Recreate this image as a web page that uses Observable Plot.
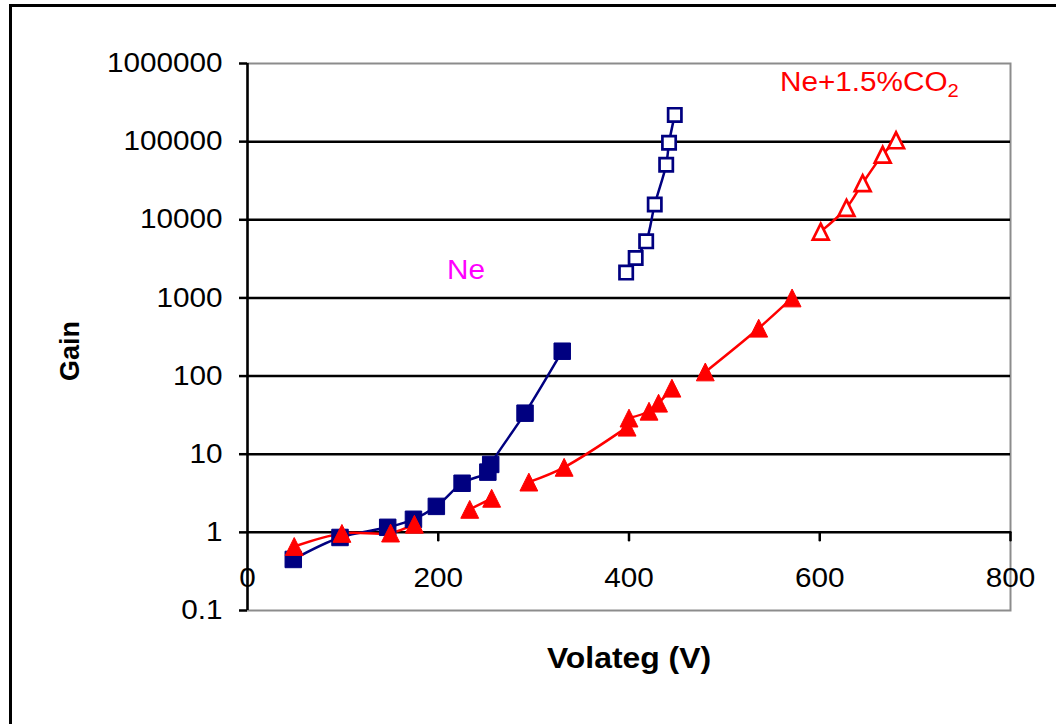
<!DOCTYPE html>
<html><head><meta charset="utf-8">
<script src="https://cdn.jsdelivr.net/npm/d3@7"></script>
<script src="https://cdn.jsdelivr.net/npm/@observablehq/plot@0.6"></script>
<style>
body{margin:0;background:#fff;}
#wrap{position:relative;width:1056px;height:724px;overflow:hidden;background:#fff;}
#border{position:absolute;left:9px;top:4px;width:1200px;height:900px;border-left:3px solid #000;border-top:3px solid #000;}
#wrap svg{position:absolute;left:0;top:0;}
</style></head><body><div id="wrap"><div id="border"></div></div>
<script>
// Ne (filled squares)
const neVolt = [48, 97, 147, 174, 198, 225, 252, 255, 291, 330];
const neGain = [0.45, 0.86, 1.16, 1.47, 2.15, 4.25, 5.9, 7.4, 33.5, 208];
// Ne (open squares)
const neHighVolt = [397, 407, 418, 427, 439, 442, 448];
const neHighGain = [2110, 3240, 5300, 15700, 50700, 97000, 220000];
// Ne+1.5%CO2 (filled triangles), with measurement run id
const co2Volt = [49, 99, 150, 175, 233, 256, 295, 332, 398, 400, 421, 431, 445, 480, 536, 571];
const co2Gain = [0.66, 0.97, 0.98, 1.27, 1.97, 2.73, 4.4, 6.8, 22.2, 29, 35.5, 45, 70, 113, 410, 1000];
const co2Run = [1, 1, 1, 1, 2, 2, 3, 3, 3, 4, 4, 4, 4, 5, 5, 5];
// Ne+1.5%CO2 (open triangles)
const co2HighVolt = [601, 628, 645, 666, 680];
const co2HighGain = [7060, 14200, 29400, 68000, 104000];
// axes
const xTicks = [0, 200, 400, 600, 800];
const xTickLabels = ["0", "200", "400", "600", "800"];
const yTicks = [0.1, 1, 10, 100, 1000, 10000, 100000, 1000000];
const yTickLabels = ["0.1", "1", "10", "100", "1000", "10000", "100000", "1000000"];
const xTitle = "Volateg (V)";
const yTitle = "Gain";
// annotations (data units)
const labelText = ["Ne", "Ne+1.5%CO2"];
const labelVolt = [229, 652];
const labelGain = [2280, 570000];
const labelColor = ["#ff00ff", "#ff0000"];

const pts = (xs, ys, runs) => xs.map((x, i) => ({x, y: ys[i], run: runs ? runs[i] : 0}));
const ne = pts(neVolt, neGain);
const neHigh = pts(neHighVolt, neHighGain);
const co2 = pts(co2Volt, co2Gain, co2Run);
const co2High = pts(co2HighVolt, co2HighGain);
const labels = labelText.map((t, i) => ({t, x: labelVolt[i], y: labelGain[i], c: labelColor[i]}));

const NAVY = "#000080", RED = "#ff0000";
const tri = {draw(ctx, size) { const h = Math.sqrt(size) * 1.12; ctx.moveTo(0, -h / 2); ctx.lineTo(h / 2, h / 2); ctx.lineTo(-h / 2, h / 2); ctx.closePath(); }};
const tickShape = {draw(ctx, l) { ctx.moveTo(0, 0); ctx.lineTo(0, -l); }};
const FONT = "'Liberation Sans', Arial, sans-serif";

const chart = Plot.plot({
  width: 1056, height: 724,
  marginLeft: 247, marginRight: 46, marginTop: 63, marginBottom: 114,
  style: {fontFamily: FONT, background: "transparent", color: "#000", overflow: "visible"},
  x: {domain: [0, 800], axis: null},
  y: {type: "log", domain: [0.1, 1e6], axis: null},
  marks: [
    Plot.frame({stroke: "#8c8c8c", strokeWidth: 2}),
    Plot.ruleY(yTicks.slice(1, -1), {stroke: "#000", strokeWidth: 2.5}),
    Plot.ruleX([0], {stroke: "#000", strokeWidth: 2.5}),
    Plot.axisY(yTicks, {tickSize: 8, tickPadding: 17, strokeWidth: 2.5, stroke: "#000", fill: "#000", fontSize: 27,
      tickFormat: d => yTickLabels[yTicks.indexOf(d)], label: null}),
    Plot.vector(xTicks.slice(1), {x: d => d, y: () => 1, length: 8, rotate: 180, anchor: "start", shape: tickShape, stroke: "#000", strokeWidth: 2.5}),
    Plot.text(xTicks, {x: d => d, y: () => 1, dy: 46, text: (d, i) => xTickLabels[i], fontSize: 27, fill: "#000"}),
    Plot.text([yTitle], {frameAnchor: "left", dx: -177, dy: 44, rotate: -90, text: d => d, fontSize: 27, fontWeight: "bold", fill: "#000"}),
    Plot.text([xTitle], {frameAnchor: "bottom", dy: 57, text: d => d, fontSize: 29, fontWeight: "bold", fill: "#000"}),
    Plot.line(ne, {x: "x", y: "y", stroke: NAVY, strokeWidth: 2.5, curve: "catmull-rom"}),
    Plot.line(neHigh, {x: "x", y: "y", stroke: NAVY, strokeWidth: 2.5, curve: "catmull-rom"}),
    Plot.line(co2, {x: "x", y: "y", z: "run", stroke: RED, strokeWidth: 2.5, curve: "catmull-rom"}),
    Plot.line(co2High, {x: "x", y: "y", stroke: RED, strokeWidth: 2.5, curve: "catmull-rom"}),
    Plot.dot(ne, {x: "x", y: "y", symbol: "square", r: 9.3, fill: NAVY, stroke: NAVY, strokeWidth: 1}),
    Plot.dot(neHigh, {x: "x", y: "y", symbol: "square", r: 7.5, fill: "#fff", stroke: NAVY, strokeWidth: 2.7}),
    Plot.dot(co2, {x: "x", y: "y", symbol: tri, r: 9, fill: RED, stroke: RED, strokeWidth: 1}),
    Plot.dot(co2High, {x: "x", y: "y", symbol: tri, r: 8, fill: "#fff", stroke: RED, strokeWidth: 2.7}),
    Plot.text(labels, {x: "x", y: "y", text: "t", fill: "c", fontSize: 27, className: "annot"})
  ]
});
document.getElementById("wrap").appendChild(chart);

// subscript for CO2
d3.select(chart).selectAll("text").each(function() {
  const t = this.textContent;
  if (t === "Ne+1.5%CO2") {
    const sel = d3.select(this);
    sel.text(null);
    sel.append("tspan").text("Ne+1.5%CO");
    sel.append("tspan").attr("dy", "0.3em").attr("font-size", "0.68em").text("2");
  }
});
// horizontal stretch of text as in the original
d3.select(chart).selectAll("text").each(function() {
  if ((this.getAttribute("transform") || "").includes("rotate")) return;
  const w = this.getComputedTextLength();
  if (w > 0) { this.setAttribute("textLength", (w * 1.1).toFixed(1)); this.setAttribute("lengthAdjust", "spacingAndGlyphs"); }
});
</script>
</body></html>
